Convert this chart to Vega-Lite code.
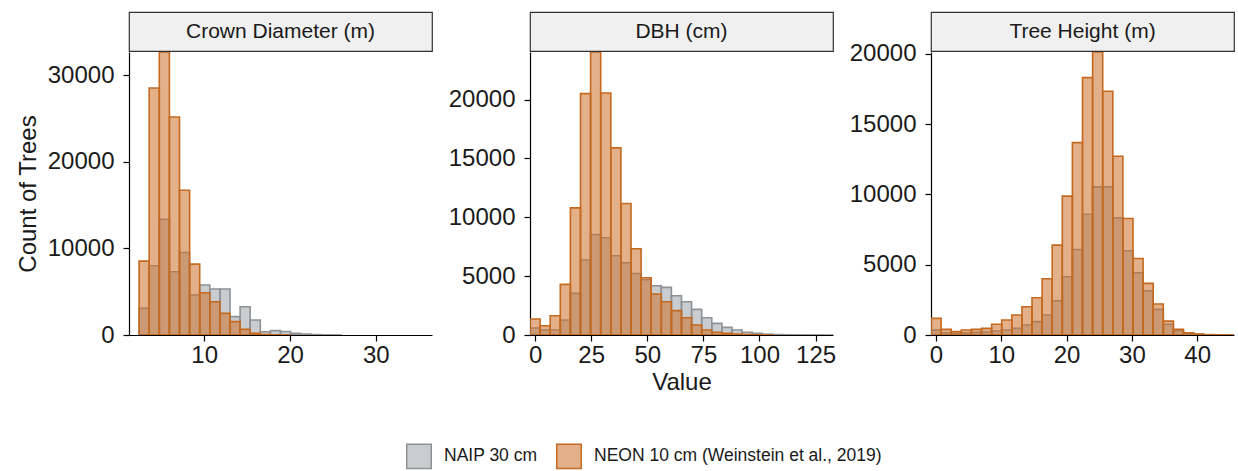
{
  "$schema": "https://vega.github.io/schema/vega-lite/v6.json",
  "padding": {"left": 16, "top": 11, "right": 0, "bottom": 0},
  "autosize": {"type": "pad"},
  "background": "white",
  "datasets": {
    "s1": [{"label": "Crown Diameter (m)"}],
    "s2": [{"label": "DBH (cm)"}],
    "s3": [{"label": "Tree Height (m)"}],
    "crown": [
      {"source": "NAIP 30 cm", "x0": 2.417, "x1": 3.594, "count": 3080},
      {"source": "NAIP 30 cm", "x0": 3.594, "x1": 4.771, "count": 8000},
      {"source": "NAIP 30 cm", "x0": 4.771, "x1": 5.948, "count": 13380},
      {"source": "NAIP 30 cm", "x0": 5.948, "x1": 7.125, "count": 7310},
      {"source": "NAIP 30 cm", "x0": 7.125, "x1": 8.302, "count": 9540},
      {"source": "NAIP 30 cm", "x0": 8.302, "x1": 9.479, "count": 4620},
      {"source": "NAIP 30 cm", "x0": 9.479, "x1": 10.656, "count": 5770},
      {"source": "NAIP 30 cm", "x0": 10.656, "x1": 11.833, "count": 5310},
      {"source": "NAIP 30 cm", "x0": 11.833, "x1": 13.01, "count": 5310},
      {"source": "NAIP 30 cm", "x0": 13.01, "x1": 14.187, "count": 2120},
      {"source": "NAIP 30 cm", "x0": 14.187, "x1": 15.364, "count": 3270},
      {"source": "NAIP 30 cm", "x0": 15.364, "x1": 16.541, "count": 1730},
      {"source": "NAIP 30 cm", "x0": 16.541, "x1": 17.718, "count": 380},
      {"source": "NAIP 30 cm", "x0": 17.718, "x1": 18.895, "count": 500},
      {"source": "NAIP 30 cm", "x0": 18.895, "x1": 20.072, "count": 400},
      {"source": "NAIP 30 cm", "x0": 20.072, "x1": 21.249, "count": 190},
      {"source": "NAIP 30 cm", "x0": 21.249, "x1": 22.426, "count": 110},
      {"source": "NAIP 30 cm", "x0": 22.426, "x1": 23.603, "count": 45},
      {"source": "NAIP 30 cm", "x0": 23.603, "x1": 24.78, "count": 15},
      {"source": "NAIP 30 cm", "x0": 24.78, "x1": 25.957, "count": 8},
      {"source": "NEON 10 cm (Weinstein et al., 2019)", "x0": 2.417, "x1": 3.594, "count": 8540},
      {"source": "NEON 10 cm (Weinstein et al., 2019)", "x0": 3.594, "x1": 4.771, "count": 28540},
      {"source": "NEON 10 cm (Weinstein et al., 2019)", "x0": 4.771, "x1": 5.948, "count": 32700},
      {"source": "NEON 10 cm (Weinstein et al., 2019)", "x0": 5.948, "x1": 7.125, "count": 25190},
      {"source": "NEON 10 cm (Weinstein et al., 2019)", "x0": 7.125, "x1": 8.302, "count": 16730},
      {"source": "NEON 10 cm (Weinstein et al., 2019)", "x0": 8.302, "x1": 9.479, "count": 8190},
      {"source": "NEON 10 cm (Weinstein et al., 2019)", "x0": 9.479, "x1": 10.656, "count": 4880},
      {"source": "NEON 10 cm (Weinstein et al., 2019)", "x0": 10.656, "x1": 11.833, "count": 3850},
      {"source": "NEON 10 cm (Weinstein et al., 2019)", "x0": 11.833, "x1": 13.01, "count": 2500},
      {"source": "NEON 10 cm (Weinstein et al., 2019)", "x0": 13.01, "x1": 14.187, "count": 1540},
      {"source": "NEON 10 cm (Weinstein et al., 2019)", "x0": 14.187, "x1": 15.364, "count": 650},
      {"source": "NEON 10 cm (Weinstein et al., 2019)", "x0": 15.364, "x1": 16.541, "count": 190},
      {"source": "NEON 10 cm (Weinstein et al., 2019)", "x0": 16.541, "x1": 17.718, "count": 60},
      {"source": "NEON 10 cm (Weinstein et al., 2019)", "x0": 17.718, "x1": 18.895, "count": 25},
      {"source": "NEON 10 cm (Weinstein et al., 2019)", "x0": 18.895, "x1": 20.072, "count": 10}
    ],
    "dbh": [
      {"source": "NAIP 30 cm", "x0": -2.25, "x1": 2.25, "count": 600},
      {"source": "NAIP 30 cm", "x0": 2.25, "x1": 6.75, "count": 420},
      {"source": "NAIP 30 cm", "x0": 6.75, "x1": 11.25, "count": 420},
      {"source": "NAIP 30 cm", "x0": 11.25, "x1": 15.75, "count": 1270},
      {"source": "NAIP 30 cm", "x0": 15.75, "x1": 20.25, "count": 3540},
      {"source": "NAIP 30 cm", "x0": 20.25, "x1": 24.75, "count": 6370},
      {"source": "NAIP 30 cm", "x0": 24.75, "x1": 29.25, "count": 8540},
      {"source": "NAIP 30 cm", "x0": 29.25, "x1": 33.75, "count": 8260},
      {"source": "NAIP 30 cm", "x0": 33.75, "x1": 38.25, "count": 6730},
      {"source": "NAIP 30 cm", "x0": 38.25, "x1": 42.75, "count": 6140},
      {"source": "NAIP 30 cm", "x0": 42.75, "x1": 47.25, "count": 5230},
      {"source": "NAIP 30 cm", "x0": 47.25, "x1": 51.75, "count": 4700},
      {"source": "NAIP 30 cm", "x0": 51.75, "x1": 56.25, "count": 4190},
      {"source": "NAIP 30 cm", "x0": 56.25, "x1": 60.75, "count": 4050},
      {"source": "NAIP 30 cm", "x0": 60.75, "x1": 65.25, "count": 3340},
      {"source": "NAIP 30 cm", "x0": 65.25, "x1": 69.75, "count": 2830},
      {"source": "NAIP 30 cm", "x0": 69.75, "x1": 74.25, "count": 2180},
      {"source": "NAIP 30 cm", "x0": 74.25, "x1": 78.75, "count": 1470},
      {"source": "NAIP 30 cm", "x0": 78.75, "x1": 83.25, "count": 990},
      {"source": "NAIP 30 cm", "x0": 83.25, "x1": 87.75, "count": 650},
      {"source": "NAIP 30 cm", "x0": 87.75, "x1": 92.25, "count": 420},
      {"source": "NAIP 30 cm", "x0": 92.25, "x1": 96.75, "count": 230},
      {"source": "NAIP 30 cm", "x0": 96.75, "x1": 101.25, "count": 140},
      {"source": "NAIP 30 cm", "x0": 101.25, "x1": 105.75, "count": 70},
      {"source": "NAIP 30 cm", "x0": 105.75, "x1": 110.25, "count": 40},
      {"source": "NAIP 30 cm", "x0": 110.25, "x1": 114.75, "count": 20},
      {"source": "NAIP 30 cm", "x0": 114.75, "x1": 119.25, "count": 10},
      {"source": "NAIP 30 cm", "x0": 119.25, "x1": 123.75, "count": 5},
      {"source": "NAIP 30 cm", "x0": 123.75, "x1": 128.25, "count": 3},
      {"source": "NAIP 30 cm", "x0": 128.25, "x1": 132.75, "count": 2},
      {"source": "NEON 10 cm (Weinstein et al., 2019)", "x0": -2.25, "x1": 2.25, "count": 1360},
      {"source": "NEON 10 cm (Weinstein et al., 2019)", "x0": 2.25, "x1": 6.75, "count": 790},
      {"source": "NEON 10 cm (Weinstein et al., 2019)", "x0": 6.75, "x1": 11.25, "count": 1640},
      {"source": "NEON 10 cm (Weinstein et al., 2019)", "x0": 11.25, "x1": 15.75, "count": 4300},
      {"source": "NEON 10 cm (Weinstein et al., 2019)", "x0": 15.75, "x1": 20.25, "count": 10800},
      {"source": "NEON 10 cm (Weinstein et al., 2019)", "x0": 20.25, "x1": 24.75, "count": 20510},
      {"source": "NEON 10 cm (Weinstein et al., 2019)", "x0": 24.75, "x1": 29.25, "count": 24050},
      {"source": "NEON 10 cm (Weinstein et al., 2019)", "x0": 29.25, "x1": 33.75, "count": 20570},
      {"source": "NEON 10 cm (Weinstein et al., 2019)", "x0": 33.75, "x1": 38.25, "count": 15900},
      {"source": "NEON 10 cm (Weinstein et al., 2019)", "x0": 38.25, "x1": 42.75, "count": 11170},
      {"source": "NEON 10 cm (Weinstein et al., 2019)", "x0": 42.75, "x1": 47.25, "count": 7330},
      {"source": "NEON 10 cm (Weinstein et al., 2019)", "x0": 47.25, "x1": 51.75, "count": 4870},
      {"source": "NEON 10 cm (Weinstein et al., 2019)", "x0": 51.75, "x1": 56.25, "count": 3480},
      {"source": "NEON 10 cm (Weinstein et al., 2019)", "x0": 56.25, "x1": 60.75, "count": 2830},
      {"source": "NEON 10 cm (Weinstein et al., 2019)", "x0": 60.75, "x1": 65.25, "count": 2070},
      {"source": "NEON 10 cm (Weinstein et al., 2019)", "x0": 65.25, "x1": 69.75, "count": 1470},
      {"source": "NEON 10 cm (Weinstein et al., 2019)", "x0": 69.75, "x1": 74.25, "count": 850},
      {"source": "NEON 10 cm (Weinstein et al., 2019)", "x0": 74.25, "x1": 78.75, "count": 420},
      {"source": "NEON 10 cm (Weinstein et al., 2019)", "x0": 78.75, "x1": 83.25, "count": 230},
      {"source": "NEON 10 cm (Weinstein et al., 2019)", "x0": 83.25, "x1": 87.75, "count": 140},
      {"source": "NEON 10 cm (Weinstein et al., 2019)", "x0": 87.75, "x1": 92.25, "count": 80},
      {"source": "NEON 10 cm (Weinstein et al., 2019)", "x0": 92.25, "x1": 96.75, "count": 40},
      {"source": "NEON 10 cm (Weinstein et al., 2019)", "x0": 96.75, "x1": 101.25, "count": 20},
      {"source": "NEON 10 cm (Weinstein et al., 2019)", "x0": 101.25, "x1": 105.75, "count": 10}
    ],
    "height": [
      {"source": "NAIP 30 cm", "x0": -0.77, "x1": 0.777, "count": 350},
      {"source": "NAIP 30 cm", "x0": 0.777, "x1": 2.324, "count": 165},
      {"source": "NAIP 30 cm", "x0": 2.324, "x1": 3.871, "count": 120},
      {"source": "NAIP 30 cm", "x0": 3.871, "x1": 5.418, "count": 165},
      {"source": "NAIP 30 cm", "x0": 5.418, "x1": 6.965, "count": 190},
      {"source": "NAIP 30 cm", "x0": 6.965, "x1": 8.512, "count": 210},
      {"source": "NAIP 30 cm", "x0": 8.512, "x1": 10.059, "count": 280},
      {"source": "NAIP 30 cm", "x0": 10.059, "x1": 11.606, "count": 355},
      {"source": "NAIP 30 cm", "x0": 11.606, "x1": 13.153, "count": 470},
      {"source": "NAIP 30 cm", "x0": 13.153, "x1": 14.7, "count": 710},
      {"source": "NAIP 30 cm", "x0": 14.7, "x1": 16.247, "count": 950},
      {"source": "NAIP 30 cm", "x0": 16.247, "x1": 17.794, "count": 1420},
      {"source": "NAIP 30 cm", "x0": 17.794, "x1": 19.341, "count": 2440},
      {"source": "NAIP 30 cm", "x0": 19.341, "x1": 20.888, "count": 4140},
      {"source": "NAIP 30 cm", "x0": 20.888, "x1": 22.435, "count": 6080},
      {"source": "NAIP 30 cm", "x0": 22.435, "x1": 23.982, "count": 8590},
      {"source": "NAIP 30 cm", "x0": 23.982, "x1": 25.529, "count": 10530},
      {"source": "NAIP 30 cm", "x0": 25.529, "x1": 27.076, "count": 10530},
      {"source": "NAIP 30 cm", "x0": 27.076, "x1": 28.623, "count": 8330},
      {"source": "NAIP 30 cm", "x0": 28.623, "x1": 30.17, "count": 5990},
      {"source": "NAIP 30 cm", "x0": 30.17, "x1": 31.717, "count": 4430},
      {"source": "NAIP 30 cm", "x0": 31.717, "x1": 33.264, "count": 3150},
      {"source": "NAIP 30 cm", "x0": 33.264, "x1": 34.811, "count": 1820},
      {"source": "NAIP 30 cm", "x0": 34.811, "x1": 36.358, "count": 760},
      {"source": "NAIP 30 cm", "x0": 36.358, "x1": 37.905, "count": 310},
      {"source": "NAIP 30 cm", "x0": 37.905, "x1": 39.452, "count": 120},
      {"source": "NAIP 30 cm", "x0": 39.452, "x1": 40.999, "count": 60},
      {"source": "NAIP 30 cm", "x0": 40.999, "x1": 42.546, "count": 20},
      {"source": "NAIP 30 cm", "x0": 42.546, "x1": 44.093, "count": 8},
      {"source": "NAIP 30 cm", "x0": 44.093, "x1": 45.64, "count": 3},
      {"source": "NEON 10 cm (Weinstein et al., 2019)", "x0": -0.77, "x1": 0.777, "count": 1180},
      {"source": "NEON 10 cm (Weinstein et al., 2019)", "x0": 0.777, "x1": 2.324, "count": 400},
      {"source": "NEON 10 cm (Weinstein et al., 2019)", "x0": 2.324, "x1": 3.871, "count": 240},
      {"source": "NEON 10 cm (Weinstein et al., 2019)", "x0": 3.871, "x1": 5.418, "count": 355},
      {"source": "NEON 10 cm (Weinstein et al., 2019)", "x0": 5.418, "x1": 6.965, "count": 400},
      {"source": "NEON 10 cm (Weinstein et al., 2019)", "x0": 6.965, "x1": 8.512, "count": 470},
      {"source": "NEON 10 cm (Weinstein et al., 2019)", "x0": 8.512, "x1": 10.059, "count": 760},
      {"source": "NEON 10 cm (Weinstein et al., 2019)", "x0": 10.059, "x1": 11.606, "count": 1065},
      {"source": "NEON 10 cm (Weinstein et al., 2019)", "x0": 11.606, "x1": 13.153, "count": 1420},
      {"source": "NEON 10 cm (Weinstein et al., 2019)", "x0": 13.153, "x1": 14.7, "count": 2010},
      {"source": "NEON 10 cm (Weinstein et al., 2019)", "x0": 14.7, "x1": 16.247, "count": 2650},
      {"source": "NEON 10 cm (Weinstein et al., 2019)", "x0": 16.247, "x1": 17.794, "count": 4000},
      {"source": "NEON 10 cm (Weinstein et al., 2019)", "x0": 17.794, "x1": 19.341, "count": 6390},
      {"source": "NEON 10 cm (Weinstein et al., 2019)", "x0": 19.341, "x1": 20.888, "count": 9870},
      {"source": "NEON 10 cm (Weinstein et al., 2019)", "x0": 20.888, "x1": 22.435, "count": 13680},
      {"source": "NEON 10 cm (Weinstein et al., 2019)", "x0": 22.435, "x1": 23.982, "count": 18300},
      {"source": "NEON 10 cm (Weinstein et al., 2019)", "x0": 23.982, "x1": 25.529, "count": 20120},
      {"source": "NEON 10 cm (Weinstein et al., 2019)", "x0": 25.529, "x1": 27.076, "count": 17330},
      {"source": "NEON 10 cm (Weinstein et al., 2019)", "x0": 27.076, "x1": 28.623, "count": 12710},
      {"source": "NEON 10 cm (Weinstein et al., 2019)", "x0": 28.623, "x1": 30.17, "count": 8280},
      {"source": "NEON 10 cm (Weinstein et al., 2019)", "x0": 30.17, "x1": 31.717, "count": 5440},
      {"source": "NEON 10 cm (Weinstein et al., 2019)", "x0": 31.717, "x1": 33.264, "count": 3670},
      {"source": "NEON 10 cm (Weinstein et al., 2019)", "x0": 33.264, "x1": 34.811, "count": 2200},
      {"source": "NEON 10 cm (Weinstein et al., 2019)", "x0": 34.811, "x1": 36.358, "count": 990},
      {"source": "NEON 10 cm (Weinstein et al., 2019)", "x0": 36.358, "x1": 37.905, "count": 400},
      {"source": "NEON 10 cm (Weinstein et al., 2019)", "x0": 37.905, "x1": 39.452, "count": 165},
      {"source": "NEON 10 cm (Weinstein et al., 2019)", "x0": 39.452, "x1": 40.999, "count": 70},
      {"source": "NEON 10 cm (Weinstein et al., 2019)", "x0": 40.999, "x1": 42.546, "count": 20},
      {"source": "NEON 10 cm (Weinstein et al., 2019)", "x0": 42.546, "x1": 44.093, "count": 8},
      {"source": "NEON 10 cm (Weinstein et al., 2019)", "x0": 44.093, "x1": 45.64, "count": 3}
    ]
  },
  "columns": 3,
  "bounds": "flush",
  "spacing": {"row": 1, "column": 98},
  "resolve": {
    "scale": {"x": "independent", "y": "independent", "fill": "shared", "stroke": "shared"},
    "legend": {"fill": "shared", "stroke": "shared"}
  },
  "concat": [
    {
      "width": 303, "height": 39,
      "view": {"fill": "#f0f0f0", "stroke": "#333333", "strokeWidth": 1.2},
      "data": {"name": "s1"},
      "mark": {"type": "text", "font": "Liberation Sans", "fontSize": 21, "color": "#1a1a1a"},
      "encoding": {"text": {"field": "label", "type": "nominal"}}
    },
    {
      "width": 303, "height": 39,
      "view": {"fill": "#f0f0f0", "stroke": "#333333", "strokeWidth": 1.2},
      "data": {"name": "s2"},
      "mark": {"type": "text", "font": "Liberation Sans", "fontSize": 21, "color": "#1a1a1a"},
      "encoding": {"text": {"field": "label", "type": "nominal"}}
    },
    {
      "width": 303, "height": 39,
      "view": {"fill": "#f0f0f0", "stroke": "#333333", "strokeWidth": 1.2},
      "data": {"name": "s3"},
      "mark": {"type": "text", "font": "Liberation Sans", "fontSize": 21, "color": "#1a1a1a"},
      "encoding": {"text": {"field": "label", "type": "nominal"}}
    },
    {
      "width": 303, "height": 283,
      "view": {"stroke": null},
      "data": {"name": "crown"},
      "mark": {"type": "rect", "strokeWidth": 1.6, "clip": true},
      "encoding": {
        "x": {"field": "x0", "type": "quantitative", "scale": {"domain": [1.24, 36.55], "nice": false, "zero": false}, "axis": {"values": [10, 20, 30], "title": null}},
        "x2": {"field": "x1"},
        "y": {"field": "count", "type": "quantitative", "scale": {"domain": [0, 32700], "nice": false}, "axis": {"values": [0, 10000, 20000, 30000], "format": "d", "title": "Count of Trees"}},
        "y2": {"datum": 0},
        "fill": {"field": "source", "type": "nominal", "scale": {"domain": ["NAIP 30 cm", "NEON 10 cm (Weinstein et al., 2019)"], "range": ["rgba(150,155,160,0.5)", "rgba(204,112,40,0.55)"]}, "legend": {"title": null}},
        "stroke": {"field": "source", "type": "nominal", "scale": {"domain": ["NAIP 30 cm", "NEON 10 cm (Weinstein et al., 2019)"], "range": ["#8e9296", "#c4691f"]}, "legend": {"title": null}}
      }
    },
    {
      "width": 303, "height": 283,
      "view": {"stroke": null},
      "data": {"name": "dbh"},
      "mark": {"type": "rect", "strokeWidth": 1.6, "clip": true},
      "encoding": {
        "x": {"field": "x0", "type": "quantitative", "scale": {"domain": [-2.25, 132.75], "nice": false, "zero": false}, "axis": {"values": [0, 25, 50, 75, 100, 125], "title": "Value"}},
        "x2": {"field": "x1"},
        "y": {"field": "count", "type": "quantitative", "scale": {"domain": [0, 24050], "nice": false}, "axis": {"values": [0, 5000, 10000, 15000, 20000], "format": "d", "title": null}},
        "y2": {"datum": 0},
        "fill": {"field": "source", "type": "nominal", "scale": {"domain": ["NAIP 30 cm", "NEON 10 cm (Weinstein et al., 2019)"], "range": ["rgba(150,155,160,0.5)", "rgba(204,112,40,0.55)"]}, "legend": {"title": null}},
        "stroke": {"field": "source", "type": "nominal", "scale": {"domain": ["NAIP 30 cm", "NEON 10 cm (Weinstein et al., 2019)"], "range": ["#8e9296", "#c4691f"]}, "legend": {"title": null}}
      }
    },
    {
      "width": 303, "height": 283,
      "view": {"stroke": null},
      "data": {"name": "height"},
      "mark": {"type": "rect", "strokeWidth": 1.6, "clip": true},
      "encoding": {
        "x": {"field": "x0", "type": "quantitative", "scale": {"domain": [-0.77, 45.64], "nice": false, "zero": false}, "axis": {"values": [0, 10, 20, 30, 40], "title": null}},
        "x2": {"field": "x1"},
        "y": {"field": "count", "type": "quantitative", "scale": {"domain": [0, 20120], "nice": false}, "axis": {"values": [0, 5000, 10000, 15000, 20000], "format": "d", "title": null}},
        "y2": {"datum": 0},
        "fill": {"field": "source", "type": "nominal", "scale": {"domain": ["NAIP 30 cm", "NEON 10 cm (Weinstein et al., 2019)"], "range": ["rgba(150,155,160,0.5)", "rgba(204,112,40,0.55)"]}, "legend": {"title": null}},
        "stroke": {"field": "source", "type": "nominal", "scale": {"domain": ["NAIP 30 cm", "NEON 10 cm (Weinstein et al., 2019)"], "range": ["#8e9296", "#c4691f"]}, "legend": {"title": null}}
      }
    }
  ],
  "config": {
    "font": "Liberation Sans",
    "axis": {
      "labelFont": "Liberation Sans", "labelFontSize": 24, "labelColor": "#1a1a1a",
      "titleFont": "Liberation Sans", "titleFontSize": 24, "titleColor": "#1a1a1a", "titleFontWeight": "normal",
      "domainColor": "#000000", "domainWidth": 1.2, "tickColor": "#000000", "tickWidth": 1.2, "tickSize": 6,
      "grid": false
    },
    "axisX": {"labelPadding": 2, "titlePadding": 3},
    "axisY": {"labelPadding": 9, "titlePadding": 7},
    "legend": {
      "orient": "none", "legendX": 277, "legendY": 431, "direction": "horizontal", "padding": 0,
      "symbolType": "square", "symbolSize": 600, "symbolStrokeWidth": 1.5,
      "labelFont": "Liberation Sans", "labelFontSize": 17.5, "labelColor": "#1a1a1a", "labelLimit": 500,
      "labelOffset": 12, "columnPadding": 15
    }
  }
}
